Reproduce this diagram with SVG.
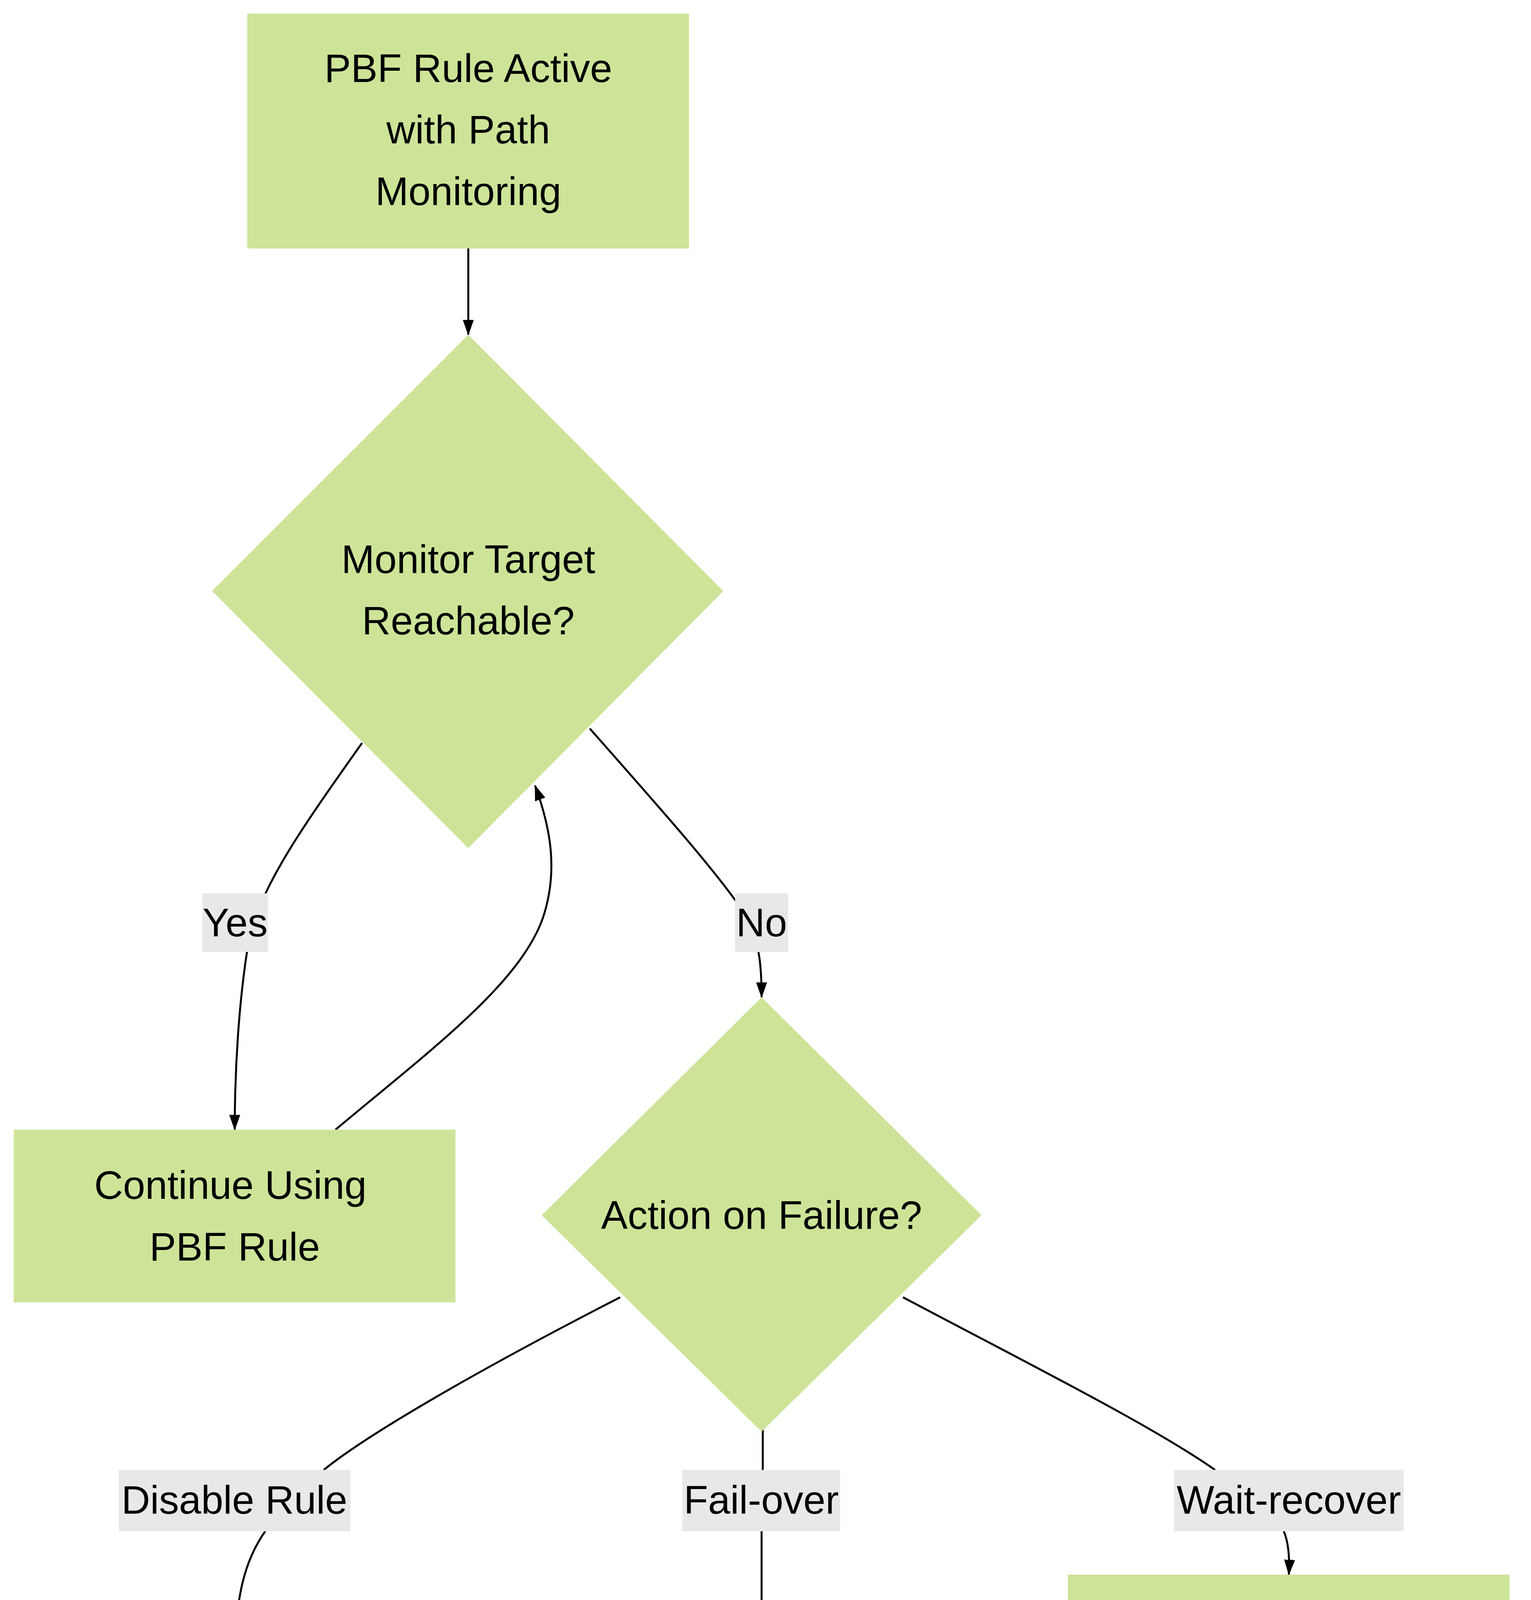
<svg xmlns="http://www.w3.org/2000/svg" width="3920" height="7920" viewBox="0 0 3920 7920">
<style>
.n{fill:#cde498;stroke:none}
.t{font-family:"Liberation Sans",Arial,sans-serif;font-size:102px;fill:#000;text-anchor:middle;dominant-baseline:central}
.e{fill:none;stroke:#000;stroke-width:5}
.lb{fill:#e8e8e8}
</style>
<defs>
<marker id="a" viewBox="0 0 10 10" refX="9" refY="5" markerWidth="9" markerHeight="9" markerUnits="userSpaceOnUse" orient="auto" overflow="visible">
<path d="M0,0 L10,5 L0,10 z" fill="#000" transform="scale(4)" />
</marker>
<marker id="m" viewBox="0 0 40 40" refX="38" refY="20" markerWidth="40" markerHeight="40" markerUnits="userSpaceOnUse" orient="auto">
<path d="M0,6 L40,20 L0,34 z" fill="#000"/>
</marker>
</defs>
<rect width="3920" height="7920" fill="#fff"/>
<g id="connectors">
<path class="e" d="M1199,636 L1199,857" marker-end="url(#m)"/>
<path class="e" d="M927,1902 C780,2110 680,2250 640,2390 C610,2560 601,2750 601,2892" marker-end="url(#m)"/>
<path class="e" d="M859,2892 C1100,2690 1330,2520 1390,2350 C1430,2230 1410,2120 1370,2011" marker-end="url(#m)"/>
<path class="e" d="M1510,1865 C1700,2080 1860,2260 1920,2360 C1945,2420 1950,2480 1950,2553" marker-end="url(#m)"/>
<path class="e" d="M1588,3321 C1200,3520 930,3680 829,3763"/>
<path class="e" d="M679,3920 C630,3990 601,4080 601,4263" marker-end="url(#m)"/>
<path class="e" d="M1953,3653 L1953,3763"/>
<path class="e" d="M1950,3920 L1950,4188" marker-end="url(#m)"/>
<path class="e" d="M2312,3321 C2650,3500 2950,3650 3111,3763"/>
<path class="e" d="M3287,3920 C3300,3950 3302,3990 3300,4031" marker-end="url(#m)"/>
<path class="e" d="M601,4711 L601,4824 C601,5120 1080,5340 1684,5641" marker-end="url(#m)"/>
<path class="e" d="M1950,4790 C1950,5030 1970,5150 2013,5310" marker-end="url(#m)"/>
<path class="e" d="M3300,4944 L3300,4990 C3300,5120 2900,5370 2581,5592" marker-end="url(#m)"/>
<path class="e" d="M1802,6287 C1600,6480 1460,6620 1390,6752"/>
<path class="e" d="M1305,6909 C1295,6940 1292,6980 1294,7016" marker-end="url(#m)"/>
<path class="e" d="M2101,6589 C2080,6800 2070,7100 2076,7350 C2078,7450 2081,7520 2090,7572"/>
<path class="e" d="M2146,7729 C2180,7780 2210,7820 2232,7839 L2232,6589" marker-end="url(#m)"/>
</g>
<g id="n1"><rect class="n" x="633" y="35" width="1131" height="601"/>
<text class="t" x="1199" y="175">PBF Rule Active</text><text class="t" x="1199" y="332">with Path</text><text class="t" x="1199" y="490">Monitoring</text></g>
<g id="d1"><polygon class="n" points="1199,857 1852,1513 1199,2171 543,1513"/>
<text class="t" x="1199" y="1432">Monitor Target</text><text class="t" x="1199" y="1589">Reachable?</text></g>
<g id="n2"><rect class="n" x="35" y="2892" width="1131" height="442"/>
<text class="t" x="590" y="3034">Continue Using</text><text class="t" x="601" y="3192">PBF Rule</text></g>
<g id="d2"><polygon class="n" points="1950,2553 2513,3111 1950,3665 1387,3111"/>
<text class="t" x="1950" y="3111">Action on Failure?</text></g>
<g id="n3"><rect class="n" x="35" y="4263" width="1131" height="448"/>
<text class="t" x="590" y="4403">Rule Disabled,</text><text class="t" x="601" y="4560">Use Routing Table</text></g>
<g id="n4"><rect class="n" x="1385" y="4188" width="1131" height="602"/>
<text class="t" x="1940" y="4324">Use Routing</text><text class="t" x="1940" y="4481">Table (New &amp;</text><text class="t" x="1950" y="4638">Existing Sessions)</text></g>
<g id="n5"><rect class="n" x="2734" y="4031" width="1131" height="913"/>
<text class="t" x="3290" y="4167">Use Routing</text><text class="t" x="3290" y="4324">Table (New</text><text class="t" x="3290" y="4481">Sessions), Try</text><text class="t" x="3290" y="4638">PBF Egress</text><text class="t" x="3305" y="4798">(Existing)</text></g>
<g id="d3"><polygon class="n" points="2156,5165 2890,5900 2156,6636 1422,5900"/>
<text class="t" x="2145" y="5740">Monitor Target</text><text class="t" x="2145" y="5897">Becomes</text><text class="t" x="2156" y="6054">Reachable?</text></g>
<g id="n6"><rect class="n" x="729" y="7016" width="1131" height="445"/>
<text class="t" x="1284" y="7156">Re-enable/Revert</text><text class="t" x="1294" y="7313">to PBF Rule</text></g>
<g id="labels">
<rect class="lb" x="518" y="2287" width="168" height="150"/><text class="t" x="602" y="2362">Yes</text>
<rect class="lb" x="1882" y="2287" width="136" height="150"/><text class="t" x="1950" y="2362">No</text>
<rect class="lb" x="304" y="3763" width="593" height="157"/><text class="t" x="600" y="3840">Disable Rule</text>
<rect class="lb" x="1747" y="3763" width="404" height="157"/><text class="t" x="1949" y="3840">Fail-over</text>
<rect class="lb" x="3006" y="3763" width="588" height="157"/><text class="t" x="3300" y="3840">Wait-recover</text>
<rect class="lb" x="1211" y="6752" width="169" height="157"/><text class="t" x="1295" y="6830">Yes</text>
<rect class="lb" x="2013" y="7572" width="133" height="157"/><text class="t" x="2080" y="7650">No</text>
</g>
</svg>
